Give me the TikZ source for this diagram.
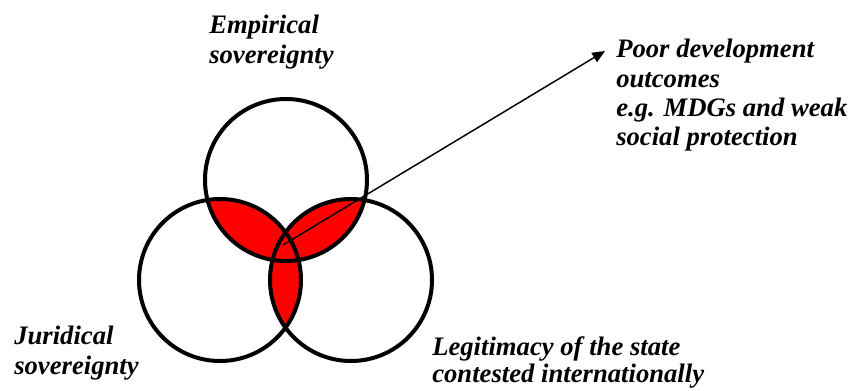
\documentclass[tikz,border=0pt]{standalone}
\usepackage{fontspec}
\setmainfont{Liberation Serif}
\usetikzlibrary{arrows.meta}
\begin{document}
\begin{tikzpicture}[x=75pt, y=75pt, >={Triangle[length=9.5pt,width=8pt]}, every node/.style={font=\fontsize{20}{22.5}\selectfont\bfseries\itshape, align=left, inner sep=0pt, anchor=north west}, ring/.style={line width=3pt}]
\definecolor{Petal}{HTML}{FF0000}
\useasboundingbox (0,0) rectangle (8.5,3.9);
\coordinate (T) at (2.86,2.10); \coordinate (L) at (2.20,1.10); \coordinate (R) at (3.51,1.10);
\begin{scope} \clip (T) circle (.81); \fill[Petal] (L) circle (.81); \fill[Petal] (R) circle (.81); \end{scope}
\begin{scope} \clip (L) circle (.81); \fill[Petal] (R) circle (.81); \end{scope}
\draw[ring] (T) circle (.81); \draw[ring] (L) circle (.81); \draw[ring] (R) circle (.81);
\coordinate (hub) at (2.83,1.45); \coordinate (tip) at (6.05,3.39);
\draw[->, line width=1.1pt] (hub) -- (tip);
\node (empirical) at (2.09,3.75) {Empirical\\sovereignty};
\node[font=\fontsize{20}{22}\selectfont\bfseries\itshape] (outcomes) at (6.16,3.51) {Poor development\\outcomes\\e.g. MDGs and weak\\social protection};
\node (juridical) at (0.14,0.645) {Juridical\\sovereignty};
\node[font=\fontsize{20}{20}\selectfont\bfseries\itshape] (legitimacy) at (4.32,0.535) {Legitimacy of the state\\contested internationally};
\end{tikzpicture}
\end{document}
